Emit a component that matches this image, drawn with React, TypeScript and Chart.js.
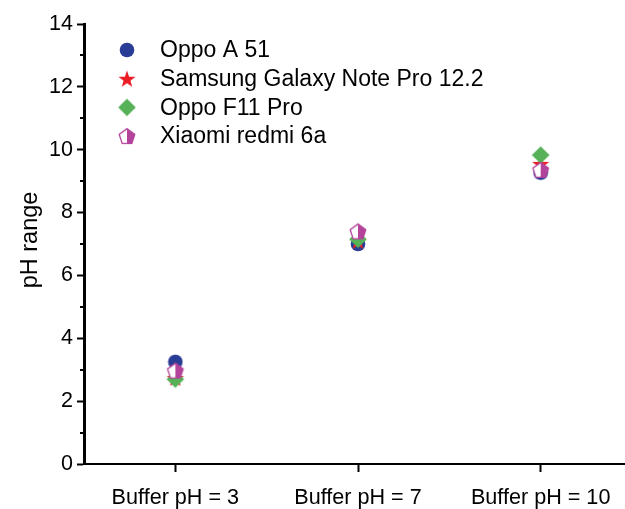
import React, { useEffect, useRef } from "react";
import { Chart, registerables } from "chart.js";

Chart.register(...registerables);

const categories = ["Buffer pH = 3", "Buffer pH = 7", "Buffer pH = 10"];
const seriesNames = ["Oppo A 51", "Samsung Galaxy Note Pro 12.2", "Oppo F11 Pro", "Xiaomi redmi 6a"];
const oppoA51 = [3.25, 7.0, 9.27];
const samsungNote = [2.74, 7.1, 9.55];
const oppoF11 = [2.7, 7.15, 9.83];
const xiaomi6a = [2.97, 7.4, 9.36];
const yTicks = [0, 2, 4, 6, 8, 10, 12, 14];

const BLUE = "#2a3d96";
const RED = "#ec1c24";
const GREEN = "#57b158";
const MAGENTA = "#b4449b";
const FONT = "'Liberation Sans', Arial, sans-serif";

function makeCanvas(size: number, draw: (ctx: CanvasRenderingContext2D, c: number) => void) {
  const cv = document.createElement("canvas");
  cv.width = size;
  cv.height = size;
  const ctx = cv.getContext("2d")!;
  draw(ctx, size / 2);
  return cv;
}

function circleMarker() {
  return makeCanvas(16, (ctx, c) => {
    ctx.fillStyle = BLUE;
    ctx.beginPath();
    ctx.arc(c, c, 7.3, 0, Math.PI * 2);
    ctx.fill();
  });
}

function starMarker() {
  return makeCanvas(20, (ctx, c) => {
    const R = 9;
    const r = 3.6;
    ctx.fillStyle = RED;
    ctx.beginPath();
    for (let i = 0; i < 10; i++) {
      const rad = i % 2 === 0 ? R : r;
      const a = -Math.PI / 2 + (i * Math.PI) / 5;
      const x = c + rad * Math.cos(a);
      const y = c + 0.8 + rad * Math.sin(a);
      if (i === 0) ctx.moveTo(x, y);
      else ctx.lineTo(x, y);
    }
    ctx.closePath();
    ctx.fill();
  });
}

function diamondMarker() {
  return makeCanvas(20, (ctx, c) => {
    const r = 8.8;
    ctx.fillStyle = GREEN;
    ctx.beginPath();
    ctx.moveTo(c, c - r);
    ctx.lineTo(c + r, c);
    ctx.lineTo(c, c + r);
    ctx.lineTo(c - r, c);
    ctx.closePath();
    ctx.fill();
  });
}

function pentagonMarker() {
  return makeCanvas(20, (ctx, c) => {
    const R = 8.2;
    const pts: [number, number][] = [];
    for (let i = 0; i < 5; i++) {
      const a = -Math.PI / 2 + (i * 2 * Math.PI) / 5;
      pts.push([c + R * Math.cos(a), c + 0.8 + R * Math.sin(a)]);
    }
    const path = () => {
      ctx.beginPath();
      pts.forEach((p, i) => (i === 0 ? ctx.moveTo(p[0], p[1]) : ctx.lineTo(p[0], p[1])));
      ctx.closePath();
    };
    path();
    ctx.fillStyle = "#ffffff";
    ctx.fill();
    ctx.save();
    ctx.beginPath();
    ctx.rect(c, 0, c * 2, c * 2);
    ctx.clip();
    path();
    ctx.fillStyle = MAGENTA;
    ctx.fill();
    ctx.restore();
    path();
    ctx.strokeStyle = MAGENTA;
    ctx.lineWidth = 1.3;
    ctx.stroke();
  });
}

export default function App() {
  const ref = useRef<HTMLCanvasElement | null>(null);

  useEffect(() => {
    if (!ref.current) return;
    const markers = [circleMarker(), starMarker(), diamondMarker(), pentagonMarker()];
    const seriesData = [oppoA51, samsungNote, oppoF11, xiaomi6a];
    const drawOrders = [4, 3, 2, 1];

    const axesPlugin = {
      id: "extras",
      afterDraw(chart: any) {
        const ctx = chart.ctx as CanvasRenderingContext2D;
        const y = chart.scales.y;
        const left = chart.chartArea.left;
        ctx.save();
        ctx.strokeStyle = "#000";
        ctx.lineWidth = 2;
        for (let v = 1; v < 14; v += 2) {
          const py = Math.round(y.getPixelForValue(v));
          ctx.beginPath();
          ctx.moveTo(left - 4, py);
          ctx.lineTo(left, py);
          ctx.stroke();
        }
        // y-axis title
        ctx.font = `23.5px ${FONT}`;
        ctx.fillStyle = "#000";
        ctx.textAlign = "center";
        ctx.textBaseline = "middle";
        ctx.save();
        ctx.translate(31, 240);
        ctx.rotate(-Math.PI / 2);
        ctx.fillText("pH range", 0, 0);
        ctx.restore();
        // legend
        const rowY0 = 50;
        const rowGap = 28.7;
        ctx.font = `23px ${FONT}`;
        ctx.fillStyle = "#000";
        ctx.textBaseline = "middle";
        ctx.textAlign = "left";
        markers.forEach((m, i) => {
          const cy = rowY0 + i * rowGap;
          ctx.drawImage(m, 127 - m.width / 2, cy - m.height / 2);
          ctx.fillText(seriesNames[i], 160, cy + 1);
        });
        ctx.restore();
      },
    };

    const chart = new Chart(ref.current, {
      type: "line",
      data: {
        labels: categories,
        datasets: seriesData.map((d, i) => ({
          label: seriesNames[i],
          data: d,
          showLine: false,
          pointStyle: markers[i] as any,
          pointRadius: 9,
          pointHoverRadius: 9,
          order: drawOrders[i],
        })),
      },
      options: {
        animation: false,
        responsive: false,
        events: [],
        layout: { autoPadding: false, padding: { top: 24, left: 0, right: 0, bottom: 0 } },
        plugins: {
          legend: { display: false },
          tooltip: { enabled: false },
        },
        scales: {
          x: {
            type: "category",
            offset: true,
            grid: {
              offset: false,
              drawOnChartArea: false,
              drawTicks: true,
              tickLength: 8,
              tickWidth: 2,
              tickColor: "#000",
            },
            border: { display: true, color: "#000", width: 2 },
            ticks: {
              color: "#000",
              font: { size: 21.6, family: FONT },
              padding: 13,
              maxRotation: 0,
              autoSkip: false,
            },
            afterFit: (s: any) => {
              s.height = 45;
              s.paddingLeft = 0;
              s.paddingRight = 0;
            },
          },
          y: {
            type: "linear",
            min: 0,
            max: 14,
            afterBuildTicks: (s: any) => {
              s.ticks = yTicks.map((v) => ({ value: v }));
            },
            grid: {
              drawOnChartArea: false,
              drawTicks: true,
              tickLength: 7,
              tickWidth: 2,
              tickColor: "#000",
            },
            border: { display: true, color: "#000", width: 3 },
            ticks: {
              color: "#000",
              font: { size: 21.5, family: FONT },
              padding: 4,
            },
            title: { display: false },
            afterFit: (s: any) => {
              s.width = 84;
              s.paddingTop = 0;
              s.paddingBottom = 0;
            },
          },
        },
      },
      plugins: [axesPlugin],
    });
    return () => chart.destroy();
  }, []);

  return (
    <div
      style={{
        position: "fixed",
        left: 0,
        top: 0,
        width: 625,
        height: 509,
        overflow: "hidden",
        background: "#fff",
      }}
    >
      <canvas ref={ref} width={632} height={509} style={{ width: 632, height: 509, display: "block" }} />
    </div>
  );
}
